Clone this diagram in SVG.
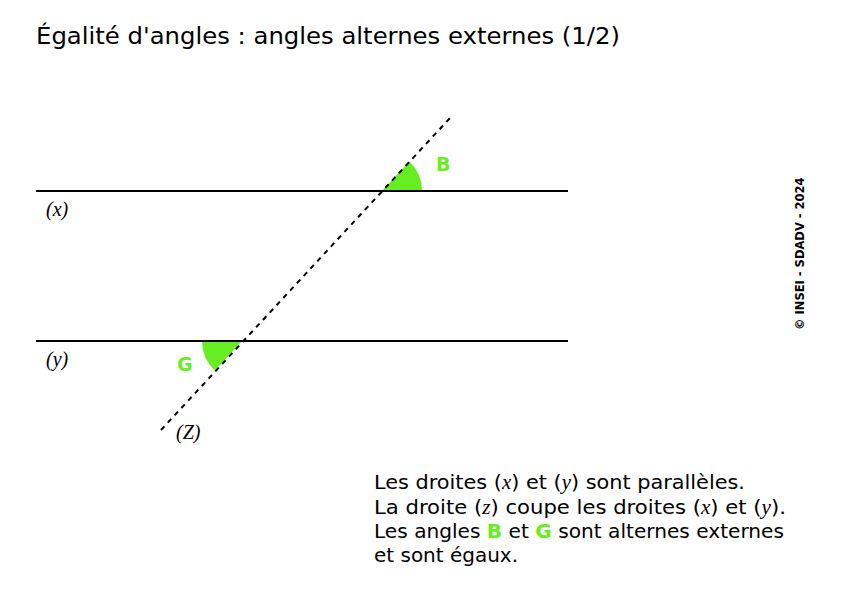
<svg xmlns="http://www.w3.org/2000/svg" width="842" height="595" viewBox="0 0 842 595">
<style>
.t{font-family:"DejaVu Sans",Verdana,sans-serif;fill:#000}
.m{font-family:"Liberation Serif",serif;font-style:italic}
.g{fill:#66ee22;font-weight:bold}
.ln{stroke:#000;stroke-width:2;fill:none}
</style>
<rect width="842" height="595" fill="#fff"/>
<text class="t" x="36" y="44" font-size="23.5" textLength="584" lengthAdjust="spacingAndGlyphs">Égalité d'angles : angles alternes externes (1/2)</text>
<g id="angles">
<path d="M382,191 L422,191 A40,40 0 0 0 409.2,161.6 Z" fill="#66ee22"/>
<path d="M242,341 L202,341 A40,40 0 0 0 214.8,370.4 Z" fill="#66ee22"/>
</g>
<g id="connectors">
<line class="ln" x1="36" y1="191" x2="568" y2="191"/>
<line class="ln" x1="36" y1="341" x2="568" y2="341"/>
<line class="ln" x1="161" y1="430" x2="450" y2="118" stroke-dasharray="5,5" stroke-width="2.5"/>
</g>
<g id="labels">
<text class="t m" x="46" y="216" font-size="20">(x)</text>
<text class="t m" x="46" y="366" font-size="20">(y)</text>
<text class="t m" x="176" y="439" font-size="20">(Z)</text>
<text class="t g" x="436" y="171" font-size="19">B</text>
<text class="t g" x="177" y="371" font-size="19">G</text>
</g>
<g id="note" class="t" font-size="20">
<text x="374" y="489" textLength="371" lengthAdjust="spacingAndGlyphs">Les droites (<tspan class="m">x</tspan>) et (<tspan class="m">y</tspan>) sont parallèles.</text>
<text x="374" y="514" textLength="412" lengthAdjust="spacingAndGlyphs">La droite (<tspan class="m">z</tspan>) coupe les droites (<tspan class="m">x</tspan>) et (<tspan class="m">y</tspan>).</text>
<text x="374" y="538" textLength="410" lengthAdjust="spacingAndGlyphs">Les angles <tspan class="g">B</tspan> et <tspan class="g">G</tspan> sont alternes externes</text>
<text x="374" y="562" textLength="144" lengthAdjust="spacingAndGlyphs">et sont égaux.</text>
</g>
<text class="t" transform="translate(804,330) rotate(-90)" font-size="11.5" font-weight="bold">© INSEI - SDADV - 2024</text>
</svg>
